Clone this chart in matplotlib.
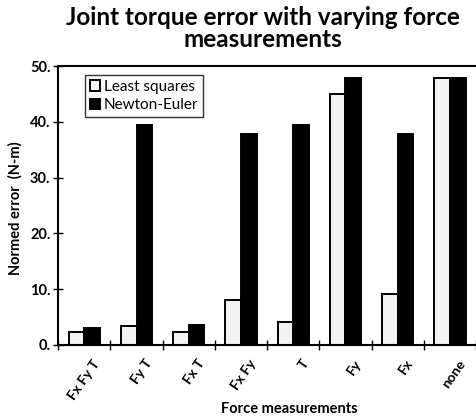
import numpy as np
import matplotlib
matplotlib.use("Agg")
import matplotlib.pyplot as plt
import matplotlib.transforms as mtransforms

plt.rcParams['font.family'] = ['Lato', 'DejaVu Sans']

categories = ['Fx Fy T', 'Fy T', 'Fx T', 'Fx Fy', 'T', 'Fy', 'Fx', 'none']
least_squares = [2.3, 3.4, 2.3, 8.1, 4.1, 45.0, 9.1, 47.9]
newton_euler = [3.1, 39.5, 3.5, 37.8, 39.5, 47.8, 37.9, 47.8]
yticks = [0, 10, 20, 30, 40, 50]

fig = plt.figure(figsize=(4.77, 4.16), dpi=100)
ax = fig.add_axes([0.122, 0.171, 0.876, 0.670])

x = np.arange(len(categories))
w = 0.3
ax.bar(x - w / 2, least_squares, w, color='#f3f3f3', edgecolor='black',
       linewidth=1.4, label='Least squares')
ax.bar(x + w / 2, newton_euler, w, color='black', edgecolor='black',
       linewidth=1.4, label='Newton-Euler')

ax.set_xlim(-0.5, len(categories) - 0.5)
ax.set_ylim(0, 50)

# tick marks sit on group boundaries, labels sit under group centres
ax.set_xticks(np.arange(len(categories) + 1) - 0.5)
ax.set_xticklabels([])
ax.set_xticks(x, minor=True)
ax.set_xticklabels(categories, minor=True, rotation=55, ha='right',
                   rotation_mode='anchor', fontsize=10, fontweight='bold')
ax.tick_params(axis='x', which='minor', length=0, pad=9)
ax.tick_params(axis='x', which='major', direction='inout', length=7, width=1)
shift = mtransforms.ScaledTranslation(8 / 100, 0, fig.dpi_scale_trans)
for lab in ax.get_xticklabels(minor=True):
    lab.set_transform(lab.get_transform() + shift)

ax.set_yticks(yticks)
ax.set_yticklabels([f'{v}.' for v in yticks], fontsize=10.5, fontweight='bold')
ax.tick_params(axis='y', direction='inout', length=7, width=1, pad=2)

for s in ['left', 'bottom', 'top']:
    ax.spines[s].set_linewidth(1.5)
ax.spines['right'].set_visible(False)

ax.set_ylabel('Normed error  (N-m)', fontsize=10.5, fontweight='bold')
ax.yaxis.set_label_coords(-0.085, 0.49)

fig.text(0.607, 1 - 409 / 416, 'Force measurements', ha='center', va='center',
         fontsize=10.5, fontweight='bold')

fig.text(0.552, 0.985, 'Joint torque error with varying force\nmeasurements',
         ha='center', va='top', fontsize=17.5, fontweight='bold',
         linespacing=0.95)

leg = ax.legend(loc='upper left', bbox_to_anchor=(0.064, 0.968), fontsize=11,
                frameon=True, fancybox=False, edgecolor='black',
                handlelength=0.7, handleheight=0.7, handletextpad=0.25,
                borderpad=0.3, labelspacing=0.3, borderaxespad=0)
leg.get_frame().set_linewidth(1.0)

fig.savefig('out.png', dpi=100)
